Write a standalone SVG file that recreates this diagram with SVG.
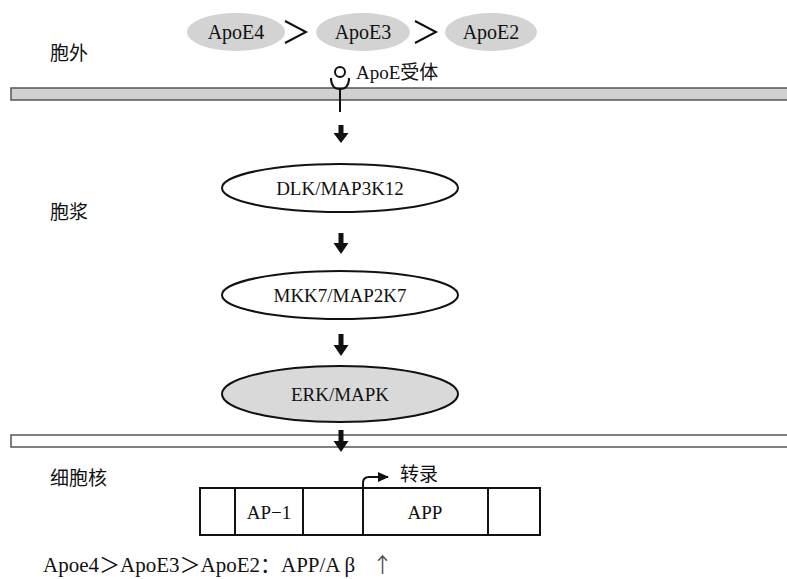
<svg xmlns="http://www.w3.org/2000/svg" width="787" height="579" viewBox="0 0 787 579">
<defs>
<style>
.t{font-family:"Liberation Serif","Noto Sans CJK SC",serif;font-size:19px;fill:#111;}
.c{font-family:"Noto Sans CJK SC","Liberation Sans",sans-serif;font-size:19px;fill:#111;}
.node{stroke:#111;stroke-width:2;}
.apo{fill:#d3d3d3;stroke:none;}
.arr{fill:#111;}
</style>
<marker id="ah" markerWidth="12" markerHeight="12" refX="10" refY="6" orient="auto" markerUnits="userSpaceOnUse">
<path d="M0,1 L11,6 L0,11 Z" fill="#111"/>
</marker>
</defs>
<rect width="787" height="579" fill="#fff"/>
<text class="c" x="50" y="60">胞外</text>
<text class="c" x="50" y="219">胞浆</text>
<text class="c" x="50" y="485">细胞核</text>

<g id="apoe4"><ellipse class="apo" cx="236" cy="32" rx="49" ry="19"/><text class="t" x="236" y="39" text-anchor="middle" style="font-size:20px">ApoE4</text></g>
<g id="apoe3"><ellipse class="apo" cx="363" cy="32" rx="47" ry="19"/><text class="t" x="363" y="39" text-anchor="middle" style="font-size:20px">ApoE3</text></g>
<g id="apoe2"><ellipse class="apo" cx="491" cy="32" rx="46" ry="19"/><text class="t" x="491" y="39" text-anchor="middle" style="font-size:20px">ApoE2</text></g>
<g id="gt" fill="none" stroke="#111" stroke-width="2">
<path d="M285,21 L306,32 L285,43"/>
<path d="M415,21 L436,32 L415,43"/>
</g>

<g id="membrane-outer"><rect x="11" y="88" width="778" height="12" fill="#d0d0d0" stroke="#555" stroke-width="1.5"/></g>
<g id="receptor" fill="none" stroke="#111" stroke-width="2">
<circle cx="340" cy="72" r="5"/>
<path d="M331,78 Q331,89 340,89 Q349,89 349,78"/>
<line x1="340" y1="89" x2="340" y2="112"/>
</g>
<text class="t" x="356" y="79" style="font-size:19px">ApoE受体</text>

<g id="dlk"><ellipse class="node" cx="340" cy="188" rx="118" ry="24" fill="#fff"/><text class="t" x="340" y="195" text-anchor="middle">DLK/MAP3K12</text></g>
<g id="mkk7"><ellipse class="node" cx="340" cy="295" rx="118" ry="24" fill="#fff"/><text class="t" x="340" y="302" text-anchor="middle">MKK7/MAP2K7</text></g>
<g id="erk"><ellipse class="node" cx="340" cy="394" rx="118" ry="28" fill="#d9d9d9"/><text class="t" x="340" y="401" text-anchor="middle">ERK/MAPK</text></g>

<g id="membrane-nuclear"><rect x="11" y="435" width="778" height="12" fill="#fff" stroke="#555" stroke-width="1.5"/></g>

<g id="connectors">
<path class="arr" d="M338.5,125 h5 v8 h5 l-7.5,10 l-7.5,-10 h5 Z"/>
<path class="arr" d="M338.5,233 h5 v10 h5 l-7.5,11 l-7.5,-11 h5 Z"/>
<path class="arr" d="M338.5,334 h5 v11 h5 l-7.5,11 l-7.5,-11 h5 Z"/>
<path class="arr" d="M338.5,430 h5 v11 h5 l-7.5,11 l-7.5,-11 h5 Z"/>
<path d="M363,488 V483 Q363,477 369,477 H388" fill="none" stroke="#111" stroke-width="2" marker-end="url(#ah)"/>
</g>
<text class="c" x="400" y="481">转录</text>

<g id="gene" fill="none" stroke="#111" stroke-width="2">
<rect x="200" y="488" width="340" height="47" fill="#fff"/>
<line x1="235" y1="488" x2="235" y2="535"/>
<line x1="303" y1="488" x2="303" y2="535"/>
<line x1="363" y1="488" x2="363" y2="535"/>
<line x1="488" y1="488" x2="488" y2="535"/>
</g>
<text class="t" x="269" y="519" text-anchor="middle">AP−1</text>
<text class="t" x="425" y="519" text-anchor="middle">APP</text>

<text class="t" x="43" y="572" style="font-size:21px">Apoe4＞ApoE3＞ApoE2：APP/A β <tspan x="372" style="font-family:'Noto Sans CJK SC',sans-serif;fill:#555">↑</tspan></text>
</svg>
